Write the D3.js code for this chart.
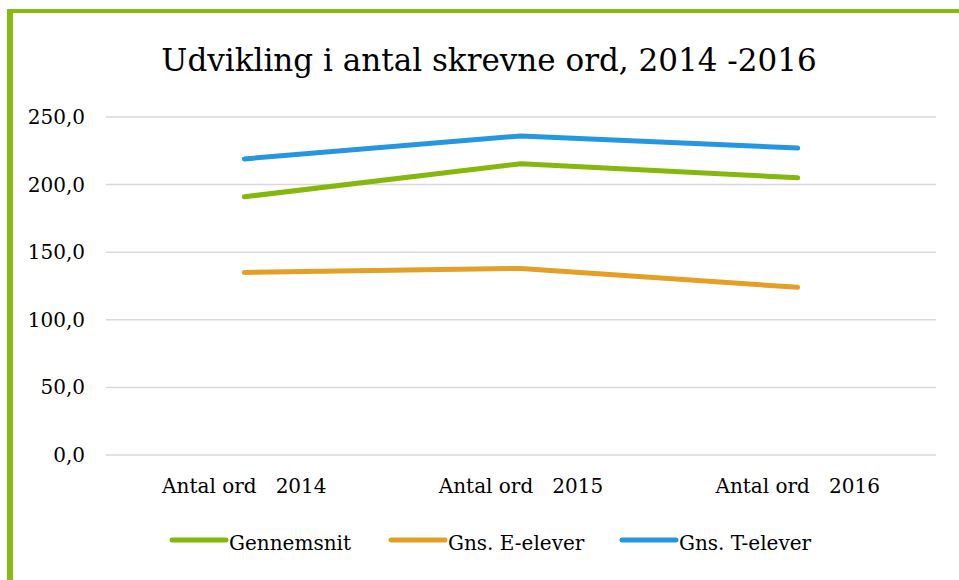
<!DOCTYPE html>
<html>
<head>
<meta charset="utf-8">
<script src="https://cdn.jsdelivr.net/npm/d3@7"></script>
<style>
  body { margin: 0; background: #fff; }
</style>
</head>
<body>
<div id="container"></div>
<script>
/* DATA */
const categories = ["Antal ord   2014", "Antal ord   2015", "Antal ord   2016"];
const gennemsnit = [191, 215.5, 205];
const eElever = [135, 138, 124];
const tElever = [219, 236, 227];
const seriesNames = ["Gennemsnit", "Gns. E-elever", "Gns. T-elever"];
const seriesColors = ["#84b80c", "#e3a025", "#2596e0"];
const yTicks = [0, 50, 100, 150, 200, 250];

const width = 959, height = 580;
const margin = { top: 117, bottom: 125, left: 106, right: 23 };
const font = "'DejaVu Serif', 'Liberation Serif', serif";

const svg = d3.select("#container").append("svg")
  .attr("width", width)
  .attr("height", height)
  .attr("font-family", font);

// green frame (left + top)
svg.append("rect").attr("x", 7).attr("y", 9).attr("width", 6).attr("height", height - 9).attr("fill", "#86bc0f");
svg.append("rect").attr("x", 7).attr("y", 9).attr("width", width - 7).attr("height", 4).attr("fill", "#86bc0f");

// title
svg.append("text")
  .attr("x", 489).attr("y", 71)
  .attr("text-anchor", "middle")
  .attr("font-size", 31)
  .text("Udvikling i antal skrevne ord, 2014 -2016");

const xScale = d3.scaleBand()
  .domain(categories)
  .range([margin.left, width - margin.right]);

const yScale = d3.scaleLinear()
  .domain([0, 250])
  .range([height - margin.bottom, margin.top]);

// gridlines
svg.append("g")
  .selectAll("line")
  .data(yTicks)
  .join("line")
  .attr("x1", margin.left)
  .attr("x2", width - margin.right)
  .attr("y1", d => yScale(d))
  .attr("y2", d => yScale(d))
  .attr("stroke", "#d9d9d9")
  .attr("stroke-width", 1.5);

// y labels
svg.append("g")
  .selectAll("text")
  .data(yTicks)
  .join("text")
  .attr("x", 85)
  .attr("y", d => yScale(d) + 7)
  .attr("text-anchor", "end")
  .attr("font-size", 20)
  .text(d => d3.format(".1f")(d).replace(".", ","));

// x labels
svg.append("g")
  .selectAll("text")
  .data(categories)
  .join("text")
  .attr("x", d => xScale(d) + xScale.bandwidth() / 2)
  .attr("y", 493)
  .attr("text-anchor", "middle")
  .attr("font-size", 20)
  .style("white-space", "pre")
  .text(d => d);

// lines
const allSeries = [gennemsnit, eElever, tElever];
const line = d3.line()
  .x((d, i) => xScale(categories[i]) + xScale.bandwidth() / 2)
  .y(d => yScale(d));

svg.append("g")
  .selectAll("path")
  .data(allSeries)
  .join("path")
  .attr("d", d => line(d))
  .attr("fill", "none")
  .attr("stroke", (d, i) => seriesColors[i])
  .attr("stroke-width", 5)
  .attr("stroke-linecap", "round")
  .attr("stroke-linejoin", "round");

// legend
const legendX = [172, 391, 622];
const legend = svg.append("g")
  .selectAll("g")
  .data(seriesNames)
  .join("g")
  .attr("transform", (d, i) => `translate(${legendX[i]},540)`);

legend.append("line")
  .attr("x1", 0).attr("x2", 54)
  .attr("stroke", (d, i) => seriesColors[i])
  .attr("stroke-width", 5)
  .attr("stroke-linecap", "round");

legend.append("text")
  .attr("x", 57).attr("y", 10)
  .attr("font-size", 20)
  .text(d => d);
</script>
</body>
</html>
